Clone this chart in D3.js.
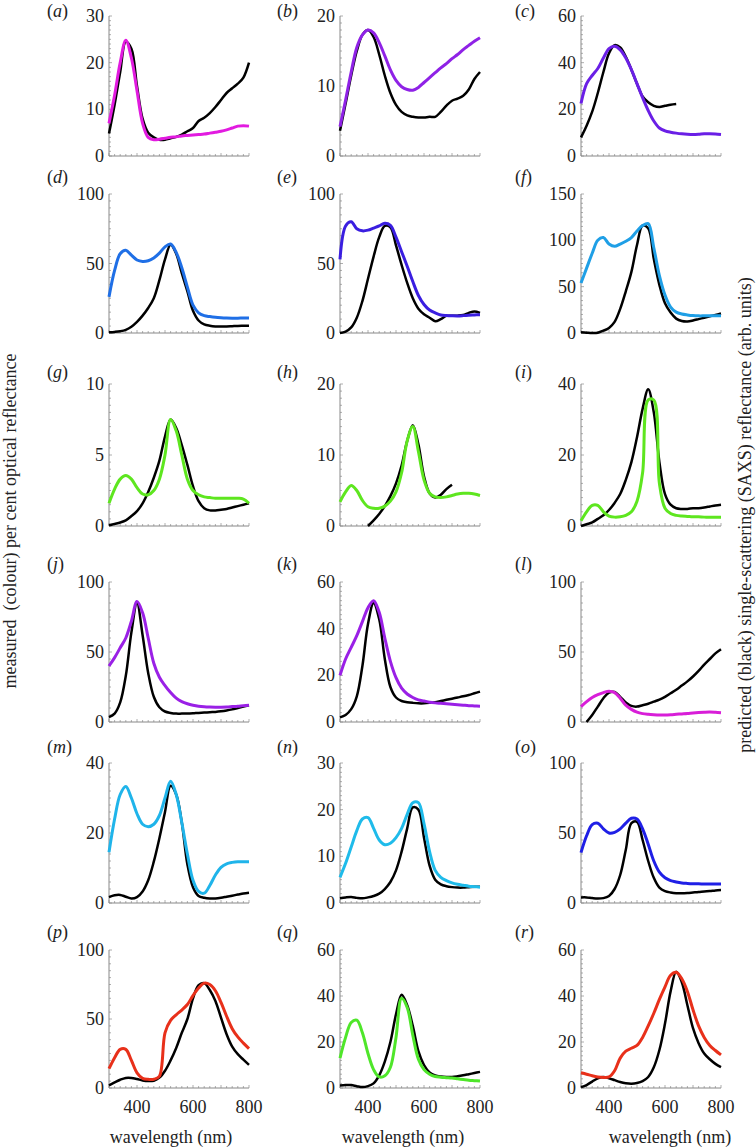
<!DOCTYPE html>
<html><head><meta charset="utf-8">
<script src="https://cdn.jsdelivr.net/npm/d3@7"></script>
<style>
body{margin:0;background:#fff}
svg{display:block}
text{font-family:"Liberation Serif","Times New Roman","DejaVu Serif",serif;fill:#222}
</style>
</head><body>
<svg id="chart" width="756" height="1148" font-family="Liberation Serif, Times New Roman, DejaVu Serif, serif"></svg>
<script>
// ---------- data ----------
const wavelengths = [300,320,340,360,380,400,420,440,460,480,500,520,540,560,580,600,620,640,660,680,700,720,740,760,780,800];
const xTickLabels = [400, 600, 800];
const panelLetters = ["a","b","c","d","e","f","g","h","i","j","k","l","m","n","o","p","q","r"];
const yMaxes = [30,20,60,100,100,150,10,20,40,100,60,100,40,30,100,100,60,60];
const yTickValues = [
  [0,10,20,30],[0,10,20],[0,20,40,60],
  [0,50,100],[0,50,100],[0,50,100,150],
  [0,5,10],[0,10,20],[0,20,40],
  [0,50,100],[0,20,40,60],[0,50,100],
  [0,20,40],[0,10,20,30],[0,50,100],
  [0,50,100],[0,20,40,60],[0,20,40,60]
];
const measuredColours = ["#e21be0","#8f22e6","#6a1fe6","#1f6fe6","#3a1ee0","#1f9fe6","#5ee61f","#5ee61f","#5ee61f",
  "#9a20e6","#9a20e6","#d81ed8","#1fb4ea","#1fbbea","#1f1fe6","#e8301a","#4fe62a","#e8301a"];

// measured (colour) per cent optical reflectance
const measuredA = [7,13,20,24.8,21,14,7,4,3.5,3.6,3.8,4.0,4.1,4.3,4.4,4.5,4.6,4.7,4.9,5.1,5.3,5.6,6.0,6.4,6.5,6.4];
const measuredB = [4.2,8,12,15.5,17.3,18,17.6,16.2,14.3,12.3,10.8,9.9,9.5,9.4,9.8,10.5,11.2,11.9,12.6,13.2,13.9,14.5,15.2,15.8,16.4,16.9];
const measuredC = [22.5,31,34.5,37.5,42,46,47,45.5,42,37,31,25,19.5,15,12,10.8,10.2,9.8,9.5,9.3,9.2,9.3,9.5,9.5,9.4,9.2];
const measuredD = [26,45,57,59.5,56,52.5,51.5,52,54,57.5,62,64,58,47,33,20,14.5,12.5,11.8,11.3,11,10.8,10.7,10.7,10.8,10.8];
const measuredE = [53,77,80,75,73.5,74,75.5,77,79,77.5,69,58.5,48,37,27,20.5,16.5,14.5,13,12.6,12.4,12.3,12.5,12.8,13,13.2];
const measuredF = [54,70,86,100,103,96,93.5,96,99,103,110,116,118,92,62,41,28,22.5,20.5,19.5,18.8,18.5,18.5,18.5,18.5,18.6];
const measuredG = [1.6,2.6,3.3,3.55,3.3,2.7,2.25,2.2,2.5,3.3,5.0,7.5,6.7,5.0,3.3,2.5,2.2,2.05,2.0,1.95,1.95,1.95,1.95,1.95,1.9,1.6];
const measuredH = [3.4,4.8,5.7,5.0,3.6,2.7,2.5,2.5,2.8,3.5,4.8,7.5,12,14,10.5,6.5,4.6,4.1,4.0,4.1,4.3,4.5,4.6,4.6,4.5,4.3];
const measuredI = [1.5,4,5.8,5.8,4,2.8,2.5,2.6,3,4,7,15,35.5,35.5,12,5,3.5,3,2.8,2.7,2.6,2.6,2.5,2.5,2.5,2.5];
const measuredJ = [40,46,53,60,72,86,78,60,42,32,26,21,17,14.5,13,12,11.3,10.9,10.7,10.6,10.6,10.7,11,11.3,11.7,12];
const measuredK = [20,27,32,37,43,49,52,47,36,26,19,14.5,12,10.5,9.5,9,8.5,8.2,8,7.8,7.6,7.4,7.2,7,6.9,6.8];
const measuredL = [11,14.5,17.5,19.5,21,22,21,17,12,9,7,6,5.5,5.2,5,5,5.2,5.5,5.8,6.1,6.5,6.8,7,7.1,6.9,6.6];
const measuredM = [14.5,24,31,33.3,30,25.5,22.5,21.8,22.5,25,30,34.8,31,23,14,6.5,3.3,2.8,5,8,10.2,11.2,11.6,11.8,11.8,11.8];
const measuredN = [5.5,8.5,12,15.5,18,18.3,16,13.5,12.5,12.8,14,16,19,21.5,21.5,17,11,7,5.5,4.8,4.3,4,3.8,3.6,3.5,3.4];
const measuredO = [36,48,56,57,53,50,50.5,53,57,60.5,60,53,42,30,22,18,16,15,14.3,14,13.8,13.7,13.6,13.5,13.5,13.5];
const measuredP = [14,22,28,28,20,11,7,6.3,6.3,8.5,40,49,53,56.5,60.5,67,72.5,76,75,70.5,62,52,43,37,32.5,28.6];
const measuredQ = [13,22,28.5,29.5,24,15,8,4.8,5.3,9,22,39,35,23,12.5,8,6,5,4.7,4.5,4.3,4,3.7,3.4,3.2,3];
const measuredR = [6.6,6,5.3,4.8,4.6,4.8,7.5,13,16,17.3,18.5,22,27,32.5,38.5,44,49,50.3,47.5,42,34,27,22,18.5,16.3,14.4];

// predicted (black) single-scattering (SAXS) reflectance
const predictedA = [4.8,11,18,24.5,23,15,8,5,4,3.5,3.5,3.8,4.1,4.6,5.3,6,7.5,8.2,9.2,10.5,12,13.5,14.5,15.5,16.8,20];
const predictedB = [3.6,7.5,11.5,15,17.3,18,17,14.5,11.5,9,7.3,6.3,5.8,5.6,5.5,5.5,5.6,5.6,6.3,7.2,7.9,8.2,8.6,9.5,11,12];
const predictedC = [8,13,19,27,36,44,47.5,46.5,42.5,37,31,25.5,23,21.5,21,21.5,22,22.3,null,null,null,null,null,null,null,null];
const predictedD = [0.5,0.8,1.3,2.3,4.5,8,12.5,18,25,38,53,63.5,57,43,30,16,9,6.2,5.2,4.7,4.6,4.7,4.9,5.1,5.2,5.3];
const predictedE = [0,1,4,11,23,39,55,69,77,76,63,49,36,25,17.5,13.5,11,8.5,10,12.3,12.4,12.5,13,14.5,15.5,14.5];
const predictedF = [0.7,0.3,0,0.3,2.5,5.5,12,26,45,66,95,116,113,80,52,32,22,15.5,13,12.5,13.5,15,16.5,18,19.5,21];
const predictedG = [0.05,0.15,0.25,0.4,0.7,1.05,1.6,2.4,3.4,4.6,6.3,7.5,6.9,5.7,4.3,2.8,1.75,1.25,1.1,1.1,1.15,1.2,1.3,1.4,1.5,1.6];
const predictedH = [null,null,null,null,null,0,0.8,1.7,2.8,4.2,6,8.5,12,14.2,11.5,7,4.6,4.0,4.4,5.2,5.8,null,null,null,null,null];
const predictedI = [0,0.5,1,2,3,4.5,6.5,9,13,18,25,33,38.5,32,18,9,6,5,4.8,4.8,5,5,5.2,5.5,5.8,6];
const predictedJ = [3.5,6,14,33,64,85,62,35,18,10.5,7.5,6.5,6,6,6,6.2,6.5,6.7,7,7.2,7.6,8.2,9,10,11,12];
const predictedK = [2,3,5.5,11,24,42,51,44,27,15,10.5,9,8.5,8.2,8,8,8.2,8.5,9,9.5,10,10.5,11,11.6,12.3,13];
const predictedL = [null,0,5,11,17,21,21.5,18,14,11.5,11,12,13,14.5,16,18,20.5,23,26,29,32.5,36.5,41,45,49,52];
const predictedM = [1.7,2.2,2.3,1.8,1.3,1.7,3.3,6.5,11.8,18.5,26,33.5,31,23,11,4.5,2,1.5,1.3,1.3,1.5,1.8,2.1,2.4,2.7,2.9];
const predictedN = [1,1.2,1.3,1.1,1,1.2,1.5,2,3,4.5,7,11,16,20.5,20,14,8,5,4,3.6,3.4,3.3,3.3,3.4,3.5,3.5];
const predictedO = [4,4,3.5,3.2,3.5,5,10,20,38,57,58,45,30,18,11,8.5,7.5,7,7,7.2,7.5,7.8,8.2,8.5,9,9.3];
const predictedP = [1.9,4,6,7.3,7.3,6.5,5.5,5,5.3,7.5,12.5,20,29,40,50,65,74.5,76,71,63,51,39,30,24.5,20.5,16.7];
const predictedQ = [1.1,1.3,1.3,0.8,0.4,0.8,2,5.5,11.5,20,32,40.5,36,27,16,10,6.8,5.5,5,4.8,4.8,5.1,5.5,6,6.5,7];
const predictedR = [0.4,1.3,2.8,4.2,4.8,4.2,3.4,2.6,2.1,1.9,2.2,3,4.8,9,16.5,28,42,50.5,46,36,26,19.5,15,12.5,10.5,9.1];

const measuredAll = [measuredA,measuredB,measuredC,measuredD,measuredE,measuredF,measuredG,measuredH,measuredI,
  measuredJ,measuredK,measuredL,measuredM,measuredN,measuredO,measuredP,measuredQ,measuredR];
const predictedAll = [predictedA,predictedB,predictedC,predictedD,predictedE,predictedF,predictedG,predictedH,predictedI,
  predictedJ,predictedK,predictedL,predictedM,predictedN,predictedO,predictedP,predictedQ,predictedR];

// ---------- layout ----------
const FONT = "Liberation Serif, Times New Roman, DejaVu Serif, serif";
const svg = d3.select("#chart");
const colLeft = [109, 340, 581];
const plotW = 140;
const rowTop = [16, 194, 384, 582, 763, 950];
const rowBottom = [156, 333, 526, 722, 903, 1088];
const letterX = [47, 277, 515];
const letterY = [17, 183, 378, 570, 753, 938];

panelLetters.forEach((letter, i) => {
  const r = Math.floor(i / 3), c = i % 3;
  const x = d3.scaleLinear().domain([300, 800]).range([colLeft[c], colLeft[c] + plotW]);
  const y = d3.scaleLinear().domain([0, yMaxes[i]]).range([rowBottom[r], rowTop[r]]);
  const g = svg.append("g");

  // minor ticks
  const major = yTickValues[i][1] - yTickValues[i][0];
  const pxPerMajor = (rowBottom[r] - rowTop[r]) * major / yMaxes[i];
  const minorStep = pxPerMajor / 10 >= 4 ? major / 10 : major / 5;
  const yMinor = d3.range(0, yMaxes[i] + minorStep / 2, minorStep);
  const xMinor = d3.range(300, 801, 20);
  g.selectAll(".xm").data(xMinor).join("line")
    .attr("x1", d => x(d)).attr("x2", d => x(d))
    .attr("y1", rowBottom[r]).attr("y2", d => rowBottom[r] - (d % 100 === 0 ? 3 : 2))
    .attr("stroke", "#999").attr("stroke-width", 0.8);
  g.selectAll(".ym").data(yMinor).join("line")
    .attr("x1", colLeft[c]).attr("x2", d => colLeft[c] + (yTickValues[i].includes(+d.toFixed(4)) ? 3 : 2))
    .attr("y1", d => y(d)).attr("y2", d => y(d))
    .attr("stroke", "#999").attr("stroke-width", 0.8);

  // axis lines
  g.append("line").attr("x1", colLeft[c]).attr("x2", colLeft[c])
    .attr("y1", rowTop[r]).attr("y2", rowBottom[r]).attr("stroke", "#888").attr("stroke-width", 1);
  g.append("line").attr("x1", colLeft[c]).attr("x2", colLeft[c] + plotW)
    .attr("y1", rowBottom[r]).attr("y2", rowBottom[r]).attr("stroke", "#888").attr("stroke-width", 1);

  // y tick labels
  g.selectAll(".yl").data(yTickValues[i]).join("text")
    .attr("x", colLeft[c] - 5).attr("y", d => y(d)).attr("dy", "0.34em")
    .attr("font-family", FONT)
    .attr("text-anchor", "end").attr("font-size", 18).text(d => d);

  // x tick labels on bottom row
  if (r === 5) {
    g.selectAll(".xl").data(xTickLabels).join("text")
      .attr("x", d => x(d)).attr("y", rowBottom[r] + 25)
      .attr("font-family", FONT)
      .attr("text-anchor", "middle").attr("font-size", 18).text(d => d);
  }

  // panel letter
  const t = g.append("text").attr("x", letterX[c]).attr("y", letterY[r])
    .attr("font-family", FONT).attr("font-size", 18);
  t.append("tspan").text("(");
  t.append("tspan").attr("font-style", "italic").text(letter);
  t.append("tspan").text(")");

  const line = d3.line()
    .defined(d => d[1] !== null)
    .x(d => x(d[0])).y(d => y(d[1]))
    .curve(d3.curveCatmullRom.alpha(0.5));

  const meas = wavelengths.map((w, k) => [w, measuredAll[i][k]]);
  const pred = wavelengths.map((w, k) => [w, predictedAll[i][k]]);

  g.append("path").attr("d", line(pred)).attr("fill", "none")
    .attr("stroke", "#000").attr("stroke-width", 2.5).attr("stroke-linejoin", "round");
  g.append("path").attr("d", line(meas)).attr("fill", "none")
    .attr("stroke", measuredColours[i]).attr("stroke-width", 3).attr("stroke-linejoin", "round");
});

// axis titles
const xTitleCenters = [171, 403, 670];
xTitleCenters.forEach(cx => {
  svg.append("text").attr("x", cx).attr("y", 1143).attr("text-anchor", "middle")
    .attr("font-family", FONT).attr("font-size", 18).text("wavelength (nm)");
});
svg.append("text").attr("transform", "translate(16,521) rotate(-90)")
  .attr("font-family", FONT)
  .attr("text-anchor", "middle").attr("font-size", 18).style("white-space", "pre")
  .text("measured  (colour) per cent optical reflectance");
svg.append("text").attr("transform", "translate(751,515) rotate(-90)")
  .attr("font-family", FONT)
  .attr("text-anchor", "middle").attr("font-size", 18)
  .text("predicted (black) single-scattering (SAXS) reflectance (arb. units)");
</script>
</body></html>
